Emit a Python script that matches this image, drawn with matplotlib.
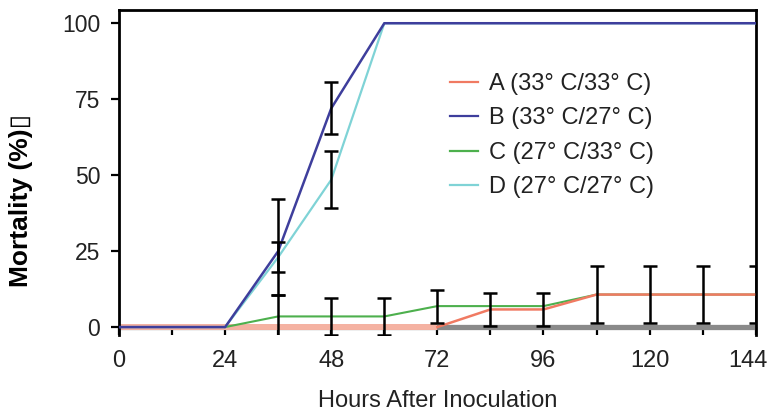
import matplotlib
matplotlib.use("Agg")
import matplotlib.pyplot as plt
from matplotlib.transforms import ScaledTranslation

plt.rcParams['font.family'] = ['Liberation Sans', 'DejaVu Sans']

# dane (godziny po inokulacji, śmiertelność w %)
hours = [0, 12, 24, 36, 48, 60, 72, 84, 96, 108, 120, 132, 144]
mort_a = [0, 0, 0, 0, 0, 0, 0, 5.8, 5.8, 10.7, 10.7, 10.7, 10.7]
mort_b = [0, 0, 0, 25, 72, 100, 100, 100, 100, 100, 100, 100, 100]
mort_c = [0, 0, 0, 3.5, 3.5, 3.5, 6.9, 6.9, 6.9, 10.7, 10.7, 10.7, 10.7]
mort_d = [0, 0, 0, 23, 48.5, 100, 100, 100, 100, 100, 100, 100, 100]
baseline = [0] * len(hours)
y_ticks = [0, 25, 50, 75, 100]

# słupki błędów: (godziny, wartości, błąd w dół, błąd w górę)
err_b = ([36, 48], [25, 72], [14.5, 8.5], [17, 8.5])
err_d = ([36, 48], [23, 48.5], [5, 9.3], [5, 9.3])
err_c = ([36, 48, 60, 72], [3.5, 3.5, 3.5, 6.9], [7, 6, 6, 5.4], [7, 6, 6, 5.4])
err_a = ([84, 96, 108, 120, 132, 144], [5.8, 5.8, 10.7, 10.7, 10.7, 10.7],
         [5.4, 5.4, 9.5, 9.5, 9.5, 9.5], [5.4, 5.4, 9.5, 9.5, 9.5, 9.5])

labels = ["A (33° C/33° C)", "B (33° C/27° C)", "C (27° C/33° C)", "D (27° C/27° C)"]

col_a = '#F07A62'
col_a_band = '#F5B2A2'
col_b = '#3E3E9C'
col_c = '#4DB04D'
col_d = '#7FD3D6'
txt = '#222222'

fig = plt.figure(figsize=(7.68, 4.11), dpi=100)
ax = fig.add_axes([0.155, 0.185, 0.829, 0.791])

# gruba linia zerowa (szara) i odcinek A przy zerze (łososiowy)
ax.plot(hours, baseline, color='#8A8A8A', lw=3.8, solid_capstyle='butt', zorder=2)
ax.plot(hours[:7], mort_a[:7], color=col_a_band, lw=4.3, solid_capstyle='butt', zorder=2.5)

ax.plot(hours[2:], mort_c[2:], color=col_c, lw=1.5, zorder=3)
ax.plot(hours[6:], mort_a[6:], color=col_a, lw=1.8, zorder=3.5)
ax.plot(hours, mort_d, color=col_d, lw=1.6, zorder=3)
ax.plot(hours, mort_b, color=col_b, lw=1.8, zorder=3.2)

for xs, ys, lo, hi in (err_b, err_d, err_c, err_a):
    ax.errorbar(xs, ys, yerr=[lo, hi], fmt='none', ecolor='black', elinewidth=1.8,
                capsize=4.8, capthick=1.8, zorder=5)

# legenda (uchwyty rysowane osobno, żeby kolejność była A-D)
handles = [plt.Line2D([], [], color=c, lw=1.6) for c in (col_a, col_b, col_c, col_d)]
leg = ax.legend(handles, labels, loc='upper left', bbox_to_anchor=(0.52, 0.806),
                frameon=False, fontsize=17, handlelength=1.2, handletextpad=0.45,
                labelspacing=0.53, borderpad=0, borderaxespad=0)
for t in leg.get_texts():
    t.set_color(txt)

ax.set_xlim(0, 144)
ax.set_ylim(-2.6, 104.4)
ax.set_xticks(hours[::2])
ax.set_xticks(hours[1::2], minor=True)
ax.set_yticks(y_ticks)

ax.spines['bottom'].set_visible(False)
for s in ('left', 'top', 'right'):
    ax.spines[s].set_linewidth(2)

ax.tick_params(axis='x', which='both', direction='in', length=6, width=1.6,
               labelsize=17, pad=11, labelcolor=txt)
ax.tick_params(axis='y', direction='out', length=5.5, width=1.6,
               labelsize=16.5, pad=8, labelcolor=txt)

ax.set_xlabel("Hours After Inoculation", fontsize=17, color=txt, labelpad=13)
ax.set_ylabel("Mortality (%)\u25AF", fontsize=19, fontweight='bold')
ax.yaxis.set_label_coords(-0.135, 0.415)

# ostatnia etykieta osi X przesunięta w lewo, żeby nie wychodziła poza obraz
last = ax.get_xticklabels()[-1]
last.set_transform(last.get_transform() + ScaledTranslation(-8 / 100, 0, fig.dpi_scale_trans))

fig.savefig("out.png", dpi=100)
